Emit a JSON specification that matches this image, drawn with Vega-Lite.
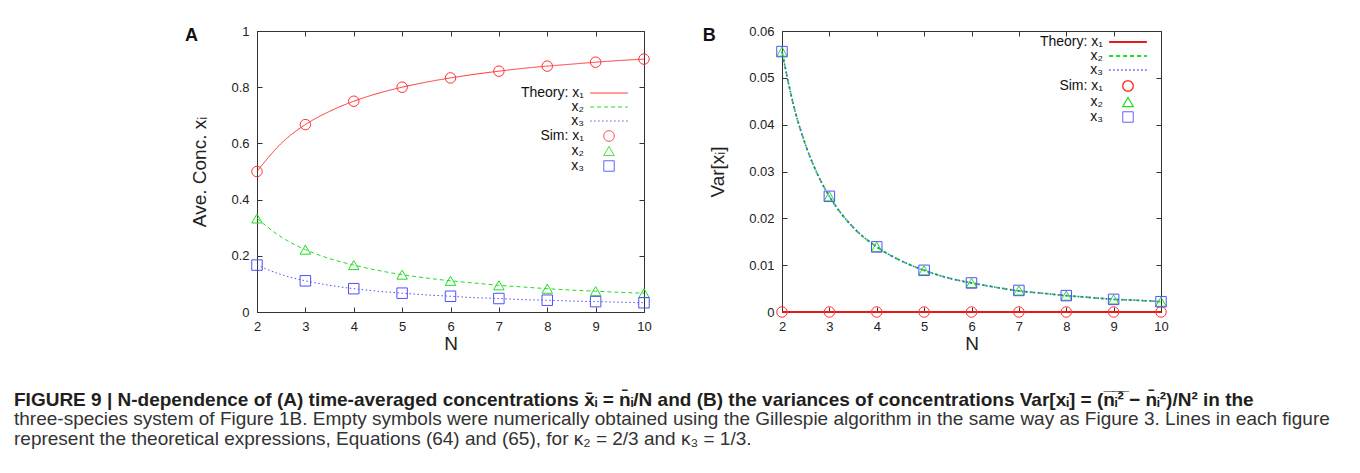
{
  "$schema": "https://vega.github.io/schema/vega-lite/v6.json",
  "background": "white",
  "autosize": {"type": "pad"},
  "padding": {"left": 14, "top": 24, "right": 0, "bottom": 0},
  "title": {
    "text": "FIGURE 9 | N-dependence of (A) time-averaged concentrations x̄ᵢ = n̄ᵢ/N and (B) the variances of concentrations Var[xᵢ] = (n̅ᵢ̅²̅ − n̄ᵢ²)/N² in the",
    "subtitle": [
      "three-species system of Figure 1B. Empty symbols were numerically obtained using the Gillespie algorithm in the same way as Figure 3. Lines in each figure",
      "represent the theoretical expressions, Equations (64) and (65), for κ₂ = 2/3 and κ₃ = 1/3."
    ],
    "orient": "bottom",
    "anchor": "start",
    "frame": "group",
    "dx": -243,
    "offset": 37,
    "font": "Liberation Sans",
    "fontSize": 19,
    "fontWeight": "bold",
    "color": "#231f20",
    "subtitleFont": "Liberation Sans",
    "subtitleFontSize": 19,
    "subtitleFontWeight": "normal",
    "subtitleColor": "#333333",
    "subtitleLineHeight": 20.5,
    "subtitlePadding": 0
  },
  "spacing": 50,
  "resolve": {"scale": {"color": "independent", "shape": "independent", "strokeDash": "independent", "strokeWidth": "independent"}},
  "hconcat": [
    {
      "width": 387,
      "height": 281,
      "title": {"text": "A", "anchor": "start", "frame": "bounds", "orient": "top", "baseline": "alphabetic", "offset": 0, "dy": 34, "dx": -6, "font": "Liberation Sans", "fontSize": 18, "fontWeight": "bold", "color": "#111111"},
      "data": {"values": [
        {"s": "T1", "N": 2, "v": 0.5}, {"s": "T1", "N": 2.5, "v": 0.6}, {"s": "T1", "N": 3, "v": 0.667}, {"s": "T1", "N": 3.5, "v": 0.714},
        {"s": "T1", "N": 4, "v": 0.75}, {"s": "T1", "N": 4.5, "v": 0.778}, {"s": "T1", "N": 5, "v": 0.8}, {"s": "T1", "N": 5.5, "v": 0.818},
        {"s": "T1", "N": 6, "v": 0.833}, {"s": "T1", "N": 6.5, "v": 0.846}, {"s": "T1", "N": 7, "v": 0.857}, {"s": "T1", "N": 7.5, "v": 0.867},
        {"s": "T1", "N": 8, "v": 0.875}, {"s": "T1", "N": 8.5, "v": 0.882}, {"s": "T1", "N": 9, "v": 0.889}, {"s": "T1", "N": 9.5, "v": 0.895},
        {"s": "T1", "N": 10, "v": 0.9},
        {"s": "T2", "N": 2, "v": 0.333}, {"s": "T2", "N": 2.5, "v": 0.267}, {"s": "T2", "N": 3, "v": 0.222}, {"s": "T2", "N": 3.5, "v": 0.19},
        {"s": "T2", "N": 4, "v": 0.167}, {"s": "T2", "N": 4.5, "v": 0.148}, {"s": "T2", "N": 5, "v": 0.133}, {"s": "T2", "N": 5.5, "v": 0.121},
        {"s": "T2", "N": 6, "v": 0.111}, {"s": "T2", "N": 6.5, "v": 0.103}, {"s": "T2", "N": 7, "v": 0.095}, {"s": "T2", "N": 7.5, "v": 0.089},
        {"s": "T2", "N": 8, "v": 0.083}, {"s": "T2", "N": 8.5, "v": 0.078}, {"s": "T2", "N": 9, "v": 0.074}, {"s": "T2", "N": 9.5, "v": 0.07},
        {"s": "T2", "N": 10, "v": 0.067},
        {"s": "T3", "N": 2, "v": 0.167}, {"s": "T3", "N": 2.5, "v": 0.133}, {"s": "T3", "N": 3, "v": 0.111}, {"s": "T3", "N": 3.5, "v": 0.095},
        {"s": "T3", "N": 4, "v": 0.083}, {"s": "T3", "N": 4.5, "v": 0.074}, {"s": "T3", "N": 5, "v": 0.067}, {"s": "T3", "N": 5.5, "v": 0.061},
        {"s": "T3", "N": 6, "v": 0.056}, {"s": "T3", "N": 6.5, "v": 0.051}, {"s": "T3", "N": 7, "v": 0.048}, {"s": "T3", "N": 7.5, "v": 0.044},
        {"s": "T3", "N": 8, "v": 0.042}, {"s": "T3", "N": 8.5, "v": 0.039}, {"s": "T3", "N": 9, "v": 0.037}, {"s": "T3", "N": 9.5, "v": 0.035},
        {"s": "T3", "N": 10, "v": 0.033},
        {"s": "S1", "N": 2, "v": 0.5}, {"s": "S1", "N": 3, "v": 0.667}, {"s": "S1", "N": 4, "v": 0.75}, {"s": "S1", "N": 5, "v": 0.8},
        {"s": "S1", "N": 6, "v": 0.833}, {"s": "S1", "N": 7, "v": 0.857}, {"s": "S1", "N": 8, "v": 0.875}, {"s": "S1", "N": 9, "v": 0.889},
        {"s": "S1", "N": 10, "v": 0.9},
        {"s": "S2", "N": 2, "v": 0.333}, {"s": "S2", "N": 3, "v": 0.222}, {"s": "S2", "N": 4, "v": 0.167}, {"s": "S2", "N": 5, "v": 0.133},
        {"s": "S2", "N": 6, "v": 0.111}, {"s": "S2", "N": 7, "v": 0.095}, {"s": "S2", "N": 8, "v": 0.083}, {"s": "S2", "N": 9, "v": 0.074},
        {"s": "S2", "N": 10, "v": 0.067},
        {"s": "S3", "N": 2, "v": 0.167}, {"s": "S3", "N": 3, "v": 0.111}, {"s": "S3", "N": 4, "v": 0.083}, {"s": "S3", "N": 5, "v": 0.067},
        {"s": "S3", "N": 6, "v": 0.056}, {"s": "S3", "N": 7, "v": 0.048}, {"s": "S3", "N": 8, "v": 0.042}, {"s": "S3", "N": 9, "v": 0.037},
        {"s": "S3", "N": 10, "v": 0.033}
      ]},
      "layer": [
        {
          "transform": [{"filter": {"field": "s", "oneOf": ["T1", "T2", "T3"]}}],
          "mark": {"type": "line", "interpolate": "monotone", "strokeWidth": 1},
          "encoding": {
            "x": {"field": "N", "type": "quantitative", "scale": {"domain": [2, 10], "nice": false, "zero": false},
                  "axis": {"orient": "bottom", "values": [2, 3, 4, 5, 6, 7, 8, 9, 10], "format": "d", "title": "N"}},
            "y": {"field": "v", "type": "quantitative", "scale": {"domain": [0, 1], "nice": false},
                  "axis": {"orient": "left", "values": [0, 0.2, 0.4, 0.6, 0.8, 1], "format": "~g", "title": "Ave. Conc. xᵢ"}},
            "color": {"field": "s", "type": "nominal",
                      "scale": {"domain": ["T1", "T2", "T3", "S1", "S2", "S3"], "range": ["#ff3030", "#22dd22", "#4f4fff", "#ff3030", "#22dd22", "#4f4fff"]},
                      "legend": {"orient": "none", "legendX": 345, "legendY": 55, "title": null,
                                 "labelExpr": "datum.value == 'T1' ? 'Theory: x₁' : datum.value == 'S1' ? 'Sim: x₁' : (datum.value == 'T2' || datum.value == 'S2') ? 'x₂' : 'x₃'"}},
            "strokeDash": {"field": "s", "type": "nominal",
                           "scale": {"domain": ["T1", "T2", "T3", "S1", "S2", "S3"], "range": [[1, 0], [4, 3], [1.5, 2.5], [1, 0], [1, 0], [1, 0]]}}
          }
        },
        {
          "transform": [{"filter": {"field": "s", "oneOf": ["S1", "S2", "S3"]}}],
          "mark": {"type": "point", "filled": false, "size": 110, "strokeWidth": 1, "opacity": 1},
          "encoding": {
            "x": {"field": "N", "type": "quantitative",
                  "axis": {"orient": "top", "values": [2, 3, 4, 5, 6, 7, 8, 9, 10], "labels": false, "title": null}},
            "y": {"field": "v", "type": "quantitative",
                  "axis": {"orient": "right", "values": [0, 0.2, 0.4, 0.6, 0.8, 1], "labels": false, "title": null}},
            "color": {"field": "s", "type": "nominal"},
            "shape": {"field": "s", "type": "nominal",
                      "scale": {"domain": ["T1", "T2", "T3", "S1", "S2", "S3"], "range": ["M-3.6,0H3.6", "M-3.6,0H3.6", "M-3.6,0H3.6", "circle", "triangle-up", "square"]}}
          }
        }
      ]
    },
    {
      "width": 379,
      "height": 281,
      "title": {"text": "B", "anchor": "start", "frame": "bounds", "orient": "top", "baseline": "alphabetic", "offset": 0, "dy": 34, "dx": -6, "font": "Liberation Sans", "fontSize": 18, "fontWeight": "bold", "color": "#111111"},
      "data": {"values": [
        {"s": "T1", "N": 2, "v": 0}, {"s": "T1", "N": 3, "v": 0}, {"s": "T1", "N": 4, "v": 0}, {"s": "T1", "N": 5, "v": 0}, {"s": "T1", "N": 6, "v": 0},
        {"s": "T1", "N": 7, "v": 0}, {"s": "T1", "N": 8, "v": 0}, {"s": "T1", "N": 9, "v": 0}, {"s": "T1", "N": 10, "v": 0},
        {"s": "T2", "N": 2, "v": 0.0556}, {"s": "T2", "N": 2.25, "v": 0.0439}, {"s": "T2", "N": 2.5, "v": 0.0356}, {"s": "T2", "N": 2.75, "v": 0.0294},
        {"s": "T2", "N": 3, "v": 0.0247}, {"s": "T2", "N": 3.5, "v": 0.0181}, {"s": "T2", "N": 4, "v": 0.0139}, {"s": "T2", "N": 4.5, "v": 0.011},
        {"s": "T2", "N": 5, "v": 0.0089}, {"s": "T2", "N": 5.5, "v": 0.0073}, {"s": "T2", "N": 6, "v": 0.0062}, {"s": "T2", "N": 6.5, "v": 0.0053},
        {"s": "T2", "N": 7, "v": 0.0045}, {"s": "T2", "N": 7.5, "v": 0.004}, {"s": "T2", "N": 8, "v": 0.0035}, {"s": "T2", "N": 8.5, "v": 0.0031},
        {"s": "T2", "N": 9, "v": 0.0027}, {"s": "T2", "N": 9.5, "v": 0.0025}, {"s": "T2", "N": 10, "v": 0.0022},
        {"s": "T3", "N": 2, "v": 0.0556}, {"s": "T3", "N": 2.25, "v": 0.0439}, {"s": "T3", "N": 2.5, "v": 0.0356}, {"s": "T3", "N": 2.75, "v": 0.0294},
        {"s": "T3", "N": 3, "v": 0.0247}, {"s": "T3", "N": 3.5, "v": 0.0181}, {"s": "T3", "N": 4, "v": 0.0139}, {"s": "T3", "N": 4.5, "v": 0.011},
        {"s": "T3", "N": 5, "v": 0.0089}, {"s": "T3", "N": 5.5, "v": 0.0073}, {"s": "T3", "N": 6, "v": 0.0062}, {"s": "T3", "N": 6.5, "v": 0.0053},
        {"s": "T3", "N": 7, "v": 0.0045}, {"s": "T3", "N": 7.5, "v": 0.004}, {"s": "T3", "N": 8, "v": 0.0035}, {"s": "T3", "N": 8.5, "v": 0.0031},
        {"s": "T3", "N": 9, "v": 0.0027}, {"s": "T3", "N": 9.5, "v": 0.0025}, {"s": "T3", "N": 10, "v": 0.0022},
        {"s": "S1", "N": 2, "v": 0}, {"s": "S1", "N": 3, "v": 0}, {"s": "S1", "N": 4, "v": 0}, {"s": "S1", "N": 5, "v": 0}, {"s": "S1", "N": 6, "v": 0},
        {"s": "S1", "N": 7, "v": 0}, {"s": "S1", "N": 8, "v": 0}, {"s": "S1", "N": 9, "v": 0}, {"s": "S1", "N": 10, "v": 0},
        {"s": "S2", "N": 2, "v": 0.0556}, {"s": "S2", "N": 3, "v": 0.0247}, {"s": "S2", "N": 4, "v": 0.0139}, {"s": "S2", "N": 5, "v": 0.0089},
        {"s": "S2", "N": 6, "v": 0.0062}, {"s": "S2", "N": 7, "v": 0.0046}, {"s": "S2", "N": 8, "v": 0.0035}, {"s": "S2", "N": 9, "v": 0.0027},
        {"s": "S2", "N": 10, "v": 0.0022},
        {"s": "S3", "N": 2, "v": 0.0556}, {"s": "S3", "N": 3, "v": 0.0247}, {"s": "S3", "N": 4, "v": 0.0139}, {"s": "S3", "N": 5, "v": 0.0089},
        {"s": "S3", "N": 6, "v": 0.0062}, {"s": "S3", "N": 7, "v": 0.0046}, {"s": "S3", "N": 8, "v": 0.0035}, {"s": "S3", "N": 9, "v": 0.0027},
        {"s": "S3", "N": 10, "v": 0.0022}
      ]},
      "layer": [
        {
          "transform": [{"filter": {"field": "s", "oneOf": ["T3", "T2", "T1"]}}],
          "mark": {"type": "line", "interpolate": "monotone"},
          "encoding": {
            "x": {"field": "N", "type": "quantitative", "scale": {"domain": [2, 10], "nice": false, "zero": false},
                  "axis": {"orient": "bottom", "values": [2, 3, 4, 5, 6, 7, 8, 9, 10], "format": "d", "title": "N"}},
            "y": {"field": "v", "type": "quantitative", "scale": {"domain": [0, 0.06], "nice": false},
                  "axis": {"orient": "left", "values": [0, 0.01, 0.02, 0.03, 0.04, 0.05, 0.06], "format": "~g", "title": "Var[xᵢ]"}},
            "color": {"field": "s", "type": "nominal",
                      "scale": {"domain": ["T1", "T2", "T3", "S1", "S2", "S3"], "range": ["#e81818", "#22dd22", "#4f4fff", "#ff3030", "#22dd22", "#4f4fff"]},
                      "legend": {"orient": "none", "legendX": 339, "legendY": 4, "title": null,
                                 "labelExpr": "datum.value == 'T1' ? 'Theory: x₁' : datum.value == 'S1' ? 'Sim: x₁' : (datum.value == 'T2' || datum.value == 'S2') ? 'x₂' : 'x₃'"}},
            "strokeDash": {"field": "s", "type": "nominal",
                           "scale": {"domain": ["T1", "T2", "T3", "S1", "S2", "S3"], "range": [[1, 0], [4, 3], [1.5, 2.5], [1, 0], [1, 0], [1, 0]]}},
            "strokeWidth": {"field": "s", "type": "nominal",
                            "scale": {"domain": ["T1", "T2", "T3", "S1", "S2", "S3"], "range": [2, 1, 1, 1, 1, 1]}}
          }
        },
        {
          "transform": [{"filter": {"field": "s", "oneOf": ["S1", "S2", "S3"]}}],
          "mark": {"type": "point", "filled": false, "size": 110, "strokeWidth": 1, "opacity": 1},
          "encoding": {
            "x": {"field": "N", "type": "quantitative",
                  "axis": {"orient": "top", "values": [2, 3, 4, 5, 6, 7, 8, 9, 10], "labels": false, "title": null}},
            "y": {"field": "v", "type": "quantitative",
                  "axis": {"orient": "right", "values": [0, 0.01, 0.02, 0.03, 0.04, 0.05, 0.06], "labels": false, "title": null}},
            "color": {"field": "s", "type": "nominal"},
            "shape": {"field": "s", "type": "nominal",
                      "scale": {"domain": ["T1", "T2", "T3", "S1", "S2", "S3"], "range": ["M-3.6,0H3.6", "M-3.6,0H3.6", "M-3.6,0H3.6", "circle", "triangle-up", "square"]}}
          }
        }
      ]
    }
  ],
  "config": {
    "font": "Liberation Sans",
    "view": {"stroke": "#333333", "strokeWidth": 1},
    "axis": {
      "grid": false, "domain": false, "tickSize": -5, "tickColor": "#333333", "tickWidth": 1,
      "labelPadding": 13, "labelFont": "Liberation Sans", "labelFontSize": 13, "labelColor": "#222222",
      "labelFlush": false, "labelOverlap": false,
      "titleFont": "Liberation Sans", "titleFontSize": 19, "titleFontWeight": "normal", "titleColor": "#222222"
    },
    "axisX": {"titlePadding": 1},
    "axisY": {"titlePadding": 21},
    "legend": {
      "padding": 0, "labelAlign": "right", "labelOffset": -32, "labelFont": "Liberation Sans", "labelFontSize": 14,
      "labelColor": "#111111", "symbolSize": 110, "symbolStrokeWidth": 1, "symbolOpacity": 1, "rowPadding": 0
    }
  }
}
